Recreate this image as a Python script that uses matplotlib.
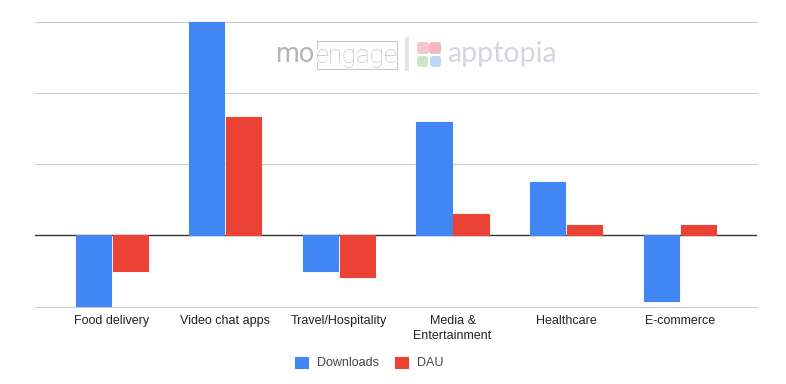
import matplotlib.pyplot as plt
import matplotlib.patches as mpatches
import numpy as np

plt.rcParams["font.family"] = ["Liberation Sans", "DejaVu Sans"]

categories = ["Food delivery", "Video chat apps", "Travel/Hospitality",
              "Media &\nEntertainment", "Healthcare", "E-commerce"]
downloads = [-20, 60, -10, 32, 15, -18.6]
dau = [-10, 33.2, -11.8, 6, 2.9, 2.9]
grid_values = [-20.2, 20, 40, 60]

W, H = 786, 384
fig = plt.figure(figsize=(W / 100, H / 100), dpi=100)

# plot area in pixels: x 35-757, y 22-307
ax = fig.add_axes([35 / W, 1 - 307 / H, 722 / W, 285 / H])
ax.set_ylim(-20.2, 60)
ax.set_xlim(-0.675, 5.68)

x = np.arange(len(categories))
w = 0.31
off = 0.163
ax.bar(x - off, downloads, w, color="#4285f4", edgecolor="#4285f4", lw=0.8,
       joinstyle="round", zorder=3, label="Downloads", clip_on=False)
ax.bar(x + off, dau, w, color="#ea4335", edgecolor="#ea4335", lw=0.8,
       joinstyle="round", zorder=3, label="DAU", clip_on=False)

for v in grid_values:
    ax.axhline(v, color="#cccccc", lw=0.8, zorder=1, clip_on=False)
ax.axhline(0, color="#333333", lw=1, zorder=2)

for s in ax.spines.values():
    s.set_visible(False)
ax.set_yticks([])
ax.set_xticks(x)
ax.set_xticklabels(categories, fontsize=9, color="#222222", linespacing=1.25)
ax.tick_params(axis="x", length=0, pad=6)

leg = fig.legend(loc="center", bbox_to_anchor=(369.5 / W, 1 - 363 / H), ncol=2,
                 frameon=False, fontsize=9, handlelength=1, handleheight=1,
                 handletextpad=0.75, columnspacing=1.3)
for t in leg.get_texts():
    t.set_color("#444444")

# logos, drawn in pixel coordinates
lg = fig.add_axes([0, 0, 1, 1], facecolor="none")
lg.set_xlim(0, W)
lg.set_ylim(H, 0)
lg.axis("off")
lg.text(275, 62.5, "mo", fontsize=19.5, family="Roboto", color="#b4b4b4", va="baseline")
lg.text(316, 62.5, "engage", fontsize=18.5, family="Roboto", weight="light", color="#c4c4c4", va="baseline")
lg.plot([317, 317, 397, 397, 317, 317], [48, 41, 41, 69, 69, 62], color="#c8c8c8", lw=0.8)
lg.add_patch(mpatches.Rectangle((405, 37), 4, 34, color="#e4e4e4", lw=0))
lg.add_patch(mpatches.FancyBboxPatch((420, 45), 6, 6, boxstyle="round,pad=3", color="#f5c6cb", lw=0))
lg.add_patch(mpatches.FancyBboxPatch((432, 45), 6, 6, boxstyle="round,pad=3", color="#f2b8bd", lw=0))
lg.add_patch(mpatches.FancyBboxPatch((420, 59), 5, 5, boxstyle="round,pad=3", color="#cfe6c4", lw=0))
lg.add_patch(mpatches.FancyBboxPatch((433, 59), 5, 5, boxstyle="round,pad=3", color="#bcd8f5", lw=0))
lg.text(447, 62, "apptopia", fontsize=20.5, family="Lato", color="#d4d6de", va="baseline")

fig.savefig("out.png", dpi=100)
